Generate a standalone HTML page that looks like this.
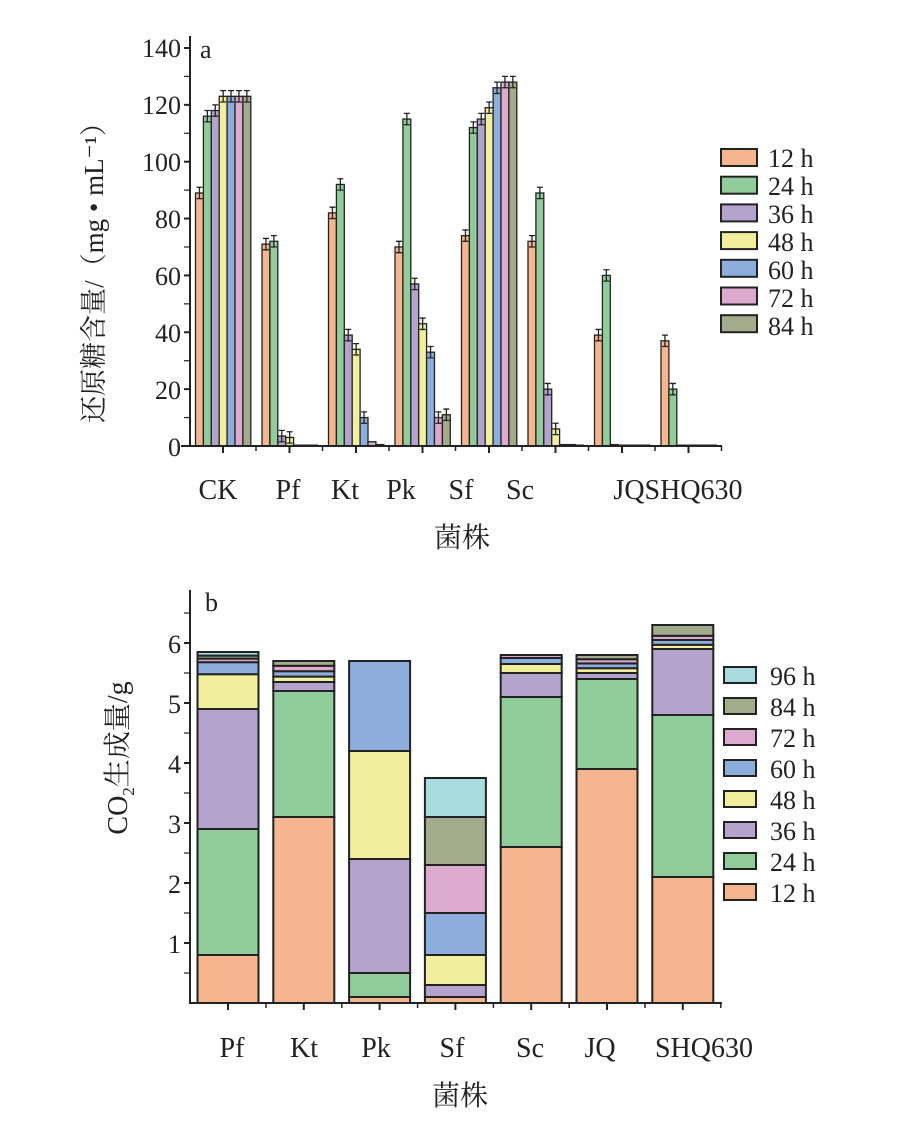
<!DOCTYPE html>
<html><head><meta charset="utf-8"><style>
body{margin:0;background:#fff}
svg{display:block}
text{font-family:"Liberation Serif","Noto Serif CJK SC",serif;fill:#222}
</style></head><body>
<svg id="s" width="911" height="1128" viewBox="0 0 911 1128" xmlns="http://www.w3.org/2000/svg">
<rect x="0" y="0" width="911" height="1128" fill="#fff"/>
<g id="bars"></g>
<line x1="190" y1="36" x2="190" y2="447" stroke="#222" stroke-width="2"/>
<line x1="181" y1="446" x2="722" y2="446" stroke="#222" stroke-width="2"/>
<text x="200" y="58" font-size="26">a</text>
<g font-size="26" text-anchor="end">
<text x="181" y="456">0</text><text x="181" y="399">20</text><text x="181" y="342">40</text>
<text x="181" y="285">60</text><text x="181" y="228">80</text><text x="181" y="171">100</text>
<text x="181" y="114">120</text><text x="181" y="57">140</text>
</g>
<text transform="translate(103,266) rotate(-90)" font-size="27" text-anchor="middle">还原糖含量/（mg • mL⁻¹）</text>
<g font-size="28" text-anchor="middle">
<text x="218" y="499">CK</text><text x="288" y="499">Pf</text><text x="345" y="499">Kt</text>
<text x="401" y="499">Pk</text><text x="461" y="499">Sf</text><text x="520" y="499">Sc</text>
<text x="678" y="499">JQSHQ630</text>
<text x="462" y="547">菌株</text>
</g>
<g font-size="26">
<text x="768" y="167">12 h</text><text x="768" y="195">24 h</text><text x="768" y="223">36 h</text>
<text x="768" y="251">48 h</text><text x="768" y="279">60 h</text><text x="768" y="307">72 h</text>
<text x="768" y="335">84 h</text>
</g>
<line x1="190" y1="590" x2="190" y2="1004" stroke="#222" stroke-width="2"/>
<line x1="190" y1="1003" x2="722" y2="1003" stroke="#222" stroke-width="2"/>
<text x="205" y="611" font-size="26">b</text>
<g font-size="26" text-anchor="end">
<text x="181" y="953">1</text><text x="181" y="893">2</text><text x="181" y="833">3</text>
<text x="181" y="773">4</text><text x="181" y="713">5</text><text x="181" y="653">6</text>
</g>
<text transform="translate(127,758) rotate(-90)" font-size="28" text-anchor="middle">CO<tspan font-size="17" dy="7">2</tspan><tspan dy="-7">生成量/g</tspan></text>
<g font-size="28" text-anchor="middle">
<text x="232" y="1057">Pf</text><text x="304" y="1057">Kt</text><text x="376" y="1057">Pk</text>
<text x="452" y="1057">Sf</text><text x="530" y="1057">Sc</text><text x="600" y="1057">JQ</text>
<text x="704" y="1057">SHQ630</text>
<text x="460" y="1105">菌株</text>
</g>
<g font-size="26">
<text x="770" y="685">96 h</text><text x="770" y="716">84 h</text><text x="770" y="747">72 h</text>
<text x="770" y="778">60 h</text><text x="770" y="809">48 h</text><text x="770" y="840">36 h</text>
<text x="770" y="871">24 h</text><text x="770" y="902">12 h</text>
</g>
</svg>
<script>
var NS="http://www.w3.org/2000/svg",g=document.getElementById('bars');
function el(t,a){var e=document.createElementNS(NS,t);for(var k in a)e.setAttribute(k,a[k]);g.appendChild(e);return e;}
var C={o:"#f5b58e",g:"#90cd9b",p:"#b4a4cd",y:"#f1ef9e",b:"#8daedd",k:"#dcaacd",v:"#a4ab8d",c:"#a8dbdd"};
var ca=[C.o,C.g,C.p,C.y,C.b,C.k,C.v];
var A=[[89,116,118,123,123,123,123],[71,72,3.5,3,0.3,0.3,0.3],[82,92,39,34,10,1.5,0.5],[70,115,57,43,33,10,11],
[74,112,115,119,126,128,128],[72,89,20,6,0.5,0.5,0.3],[39,60,0.5,0.3,0.3,0.3,0.3],[37,20,0.3,0.3,0.3,0.3,0.3]];
var y0=446,k=2.843;
for(var i=0;i<8;i++){var cx=223+66.5*i,x0=cx-27.5;
 el('line',{x1:cx,y1:446,x2:cx,y2:453,stroke:'#222','stroke-width':2});
 el('line',{x1:cx+33,y1:446,x2:cx+33,y2:451,stroke:'#222','stroke-width':1.5});
 for(var j=0;j<7;j++){var v=A[i][j],h=v*k,x=x0+j*7.9;
  el('rect',{x:x,y:y0-h,width:7.9,height:h,fill:ca[j],stroke:'#222','stroke-width':1.3});
  if(v>2){var e=2*k,m=x+3.95;
   el('path',{d:'M'+m+' '+(y0-h-e)+'V'+(y0-h+e)+'M'+(m-3)+' '+(y0-h-e)+'H'+(m+3)+'M'+(m-3)+' '+(y0-h+e)+'H'+(m+3),stroke:'#222','stroke-width':1.3,fill:'none'});}
 }}
for(var t=0;t<=14;t++){var yy=446-t*10*k;el('line',{x1:184,y1:yy,x2:190,y2:yy,stroke:'#222','stroke-width':t%2?1.2:2});}
for(var j=0;j<7;j++)el('rect',{x:721,y:149+j*27.7,width:36,height:17,fill:ca[j],stroke:'#222','stroke-width':2});
var cb=[C.o,C.g,C.p,C.y,C.b,C.k,C.v,C.c];
var B=[[0.8,2.9,4.9,5.48,5.68,5.74,5.79,5.85],[3.1,5.2,5.35,5.44,5.53,5.62,5.7,5.7],[0.1,0.5,2.4,4.2,5.7,5.7,5.7,5.7],
[0.1,0.1,0.3,0.8,1.5,2.3,3.1,3.75],[2.6,5.1,5.5,5.65,5.75,5.8,5.8,5.8],[3.9,5.4,5.5,5.58,5.66,5.73,5.8,5.8],[2.1,4.8,5.9,5.97,6.05,6.12,6.3,6.3]];
for(var i=0;i<7;i++){var cx=228+75.8*i,x=cx-30.5,prev=0;
 el('line',{x1:cx,y1:1003,x2:cx,y2:1010,stroke:'#222','stroke-width':2});
 el('line',{x1:cx+38,y1:1003,x2:cx+38,y2:1008,stroke:'#222','stroke-width':1.5});
 for(var j=0;j<8;j++){var v=B[i][j];if(v-prev<0.001)continue;
  el('rect',{x:x,y:1003-v*60,width:61,height:(v-prev)*60,fill:cb[j],stroke:'#222','stroke-width':2});prev=v;}
}
for(var t=1;t<=13;t++){var yy=1003-t*30;el('line',{x1:184,y1:yy,x2:190,y2:yy,stroke:'#222','stroke-width':t%2?1.2:2});}
var lb=[C.c,C.v,C.k,C.b,C.y,C.p,C.g,C.o];
for(var j=0;j<8;j++)el('rect',{x:724,y:667+j*31,width:32,height:16,fill:lb[j],stroke:'#222','stroke-width':2});
</script>
</body></html>
